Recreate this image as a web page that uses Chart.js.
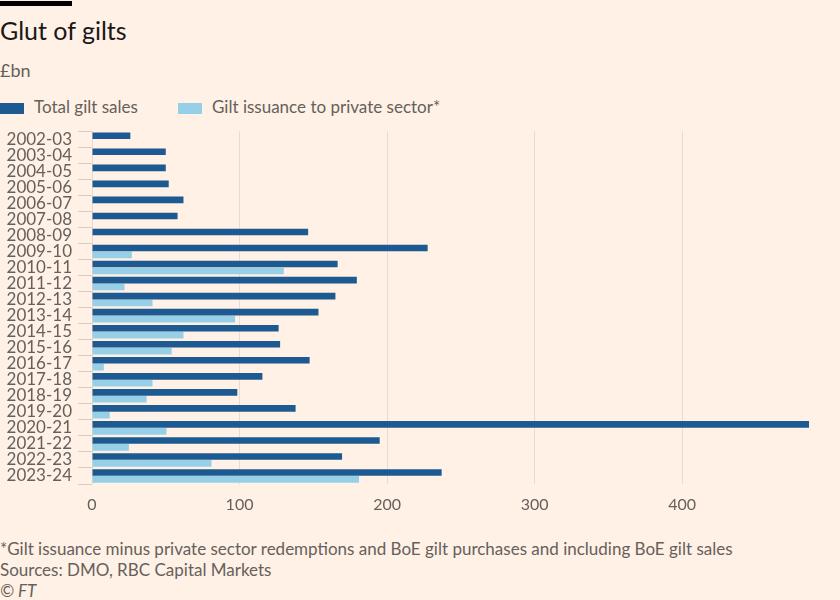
<!DOCTYPE html>
<html>
<head>
<meta charset="utf-8">
<script src="https://cdn.jsdelivr.net/npm/chart.js@4"></script>
<style>
  body { margin: 0; background: #fff1e5; font-family: Lato, sans-serif; color: #66605c; }
  #wrap { position: relative; width: 840px; height: 600px; overflow: hidden; }
  .bar { position: absolute; left: 0; top: 1px; width: 72px; height: 5px; background: #000; }
  .title { position: absolute; left: 0; top: 15px; font-size: 25px; color: #1a1817; }
  .sub { position: absolute; left: 0; top: 59px; font-size: 18px; }
  .legend { position: absolute; top: 96px; font-size: 17px; white-space: nowrap; }
  .legend span.sw { display: inline-block; width: 24px; height: 11px; vertical-align: -1px; margin-right: 10px; }
  .foot { position: absolute; left: 0; font-size: 17px; white-space: nowrap; }
  #chartBox { position: absolute; left: 0; top: 115px; width: 840px; height: 405px; }
</style>
</head>
<body>
<div id="wrap">
  <div class="bar"></div>
  <div class="title">Glut of gilts</div>
  <div class="sub">£bn</div>
  <div class="legend" style="left:0"><span class="sw" style="background:#1d5a91"></span>Total gilt sales</div>
  <div class="legend" style="left:178px"><span class="sw" style="background:#96cfe6"></span>Gilt issuance to private sector*</div>
  <div id="chartBox"><canvas id="chart"></canvas></div>
  <div class="foot" style="top:538px">*Gilt issuance minus private sector redemptions and BoE gilt purchases and including BoE gilt sales</div>
  <div class="foot" style="top:559px">Sources: DMO, RBC Capital Markets</div>
  <div class="foot" style="top:580px; font-style:italic">© FT</div>
</div>
<script>
// Data
const years = ['2002-03', '2003-04', '2004-05', '2005-06', '2006-07', '2007-08', '2008-09',
  '2009-10', '2010-11', '2011-12', '2012-13', '2013-14', '2014-15', '2015-16', '2016-17',
  '2017-18', '2018-19', '2019-20', '2020-21', '2021-22', '2022-23', '2023-24'];
const totalSales = [26, 50, 50, 52, 62, 58, 146.5, 227.5, 166.5, 179.5, 165, 153.5, 126.5, 127.5,
  147.5, 115.5, 98.5, 138, 486, 195, 169.5, 237];
const privateIssuance = [null, null, null, null, null, null, null, 27, 130, 22, 41, 97, 62, 54,
  8, 41, 37, 12, 50.5, 25, 81, 181];
const xTicks = [0, 100, 200, 300, 400];

const ctx = document.getElementById('chart').getContext('2d');
new Chart(ctx, {
    type: 'bar',
    data: {
        labels: years,
        datasets: [{
            label: 'Total gilt sales',
            data: totalSales,
            backgroundColor: '#1d5a91',
            categoryPercentage: 0.86,
            barPercentage: 0.96
        }, {
            label: 'Gilt issuance to private sector*',
            data: privateIssuance,
            backgroundColor: '#96cfe6',
            categoryPercentage: 0.86,
            barPercentage: 0.96
        }]
    },
    options: {
        indexAxis: 'y',
        responsive: true,
        maintainAspectRatio: false,
        animation: false,
        layout: { padding: 0 },
        plugins: { legend: { display: false }, tooltip: { enabled: false } },
        scales: {
            x: {
                min: 0,
                max: 507,
                afterBuildTicks: axis => { axis.ticks = xTicks.map(v => ({ value: v })); },
                afterFit: axis => { axis.height = 36; },
                grid: { color: '#e8dcd2', drawTicks: false },
                border: { display: false },
                ticks: { color: '#66605c', font: { family: 'Lato', size: 16 }, padding: 11 }
            },
            y: {
                afterFit: axis => { axis.width = 92; },
                grid: { drawOnChartArea: false, color: '#d8ccc2', tickLength: 14 },
                border: { display: false },
                ticks: { color: '#66605c', font: { family: 'Lato', size: 17 }, padding: 6, autoSkip: false }
            }
        }
    }
});
</script>
</body>
</html>
